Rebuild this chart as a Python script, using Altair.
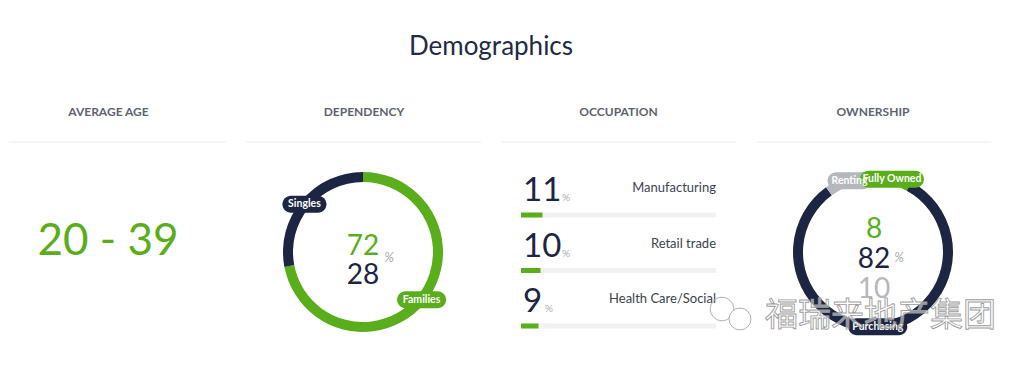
import altair as alt
import pandas as pd

# ---------------- data ----------------
TITLE = "Demographics"
HEADERS = ["AVERAGE AGE", "DEPENDENCY", "OCCUPATION", "OWNERSHIP"]
AGE_RANGE = "20 - 39"
DEP_LABELS = ["Families", "Singles"]
DEP_VALUES = [72, 28]
OCC_LABELS = ["Manufacturing", "Retail trade", "Health Care/Social"]
OCC_VALUES = [11, 10, 9]
OWN_LABELS = ["Fully Owned", "Purchasing", "Renting"]
OWN_VALUES = [8, 82, 10]
WATERMARK = "福瑞来地产集团"

# ---------------- style ----------------
GREEN = "#5aad1b"
NAVY = "#1c2541"
GRAY = "#b5b7bc"
FONT = "Lato"
H = 347
WIDTHS = [217, 235, 235, 235]


def header(i, cx):
    df = pd.DataFrame({"t": [HEADERS[i]]})
    txt = alt.Chart(df).mark_text(
        font=FONT, fontSize=12, fontWeight="bold", color="#5c6370"
    ).encode(text="t:N", x=alt.value(cx), y=alt.value(104))
    rule = alt.Chart(df).mark_rule(color="#ebebeb", strokeWidth=1).encode(
        x=alt.value(0), x2=alt.value(WIDTHS[i]), y=alt.value(134)
    )
    return [rule, txt]


def pill_path(w, h=17, s=30.0):
    a = (w / 2 - h / 2) / s
    r = h / 2 / s
    return (f"M{-a:.4f},{-r:.4f}L{a:.4f},{-r:.4f}"
            f"A{r:.4f},{r:.4f} 0 0 1 {a:.4f},{r:.4f}"
            f"L{-a:.4f},{r:.4f}A{r:.4f},{r:.4f} 0 0 1 {-a:.4f},{-r:.4f}Z")


def donut(labels, values, colors, cx, cy):
    df = pd.DataFrame({"label": labels, "value": values, "idx": list(range(len(labels)))})
    base = alt.Chart(df)
    cscale = alt.Scale(domain=labels, range=colors)
    arc = base.mark_arc(outerRadius=80, innerRadius=70).encode(
        theta=alt.Theta("value:Q", stack=True),
        order=alt.Order("idx:Q"),
        color=alt.Color("label:N", scale=cscale, legend=None),
        x=alt.value(cx),
        y=alt.value(cy),
    )
    lab = base.transform_joinaggregate(total="sum(value)").transform_window(
        cum="sum(value)", sort=[alt.SortField("idx")], frame=[None, 0]
    ).transform_calculate(
        mid="(datum.cum - datum.value / 2) / datum.total * 2 * PI",
        sx="sin(datum.mid)",
        sy="cos(datum.mid)",
    )
    xs = alt.X("sx:Q", scale=alt.Scale(domain=[-1, 1], range=[cx - 76, cx + 76]), axis=None)
    ys = alt.Y("sy:Q", scale=alt.Scale(domain=[-1, 1], range=[cy + 75, cy - 75]), axis=None)
    paths = [pill_path(5.0 * len(l) + 9) for l in labels]
    pills = lab.mark_point(filled=True, size=3600, opacity=1, strokeWidth=0).encode(
        x=xs, y=ys,
        shape=alt.Shape("label:N", scale=alt.Scale(domain=labels, range=paths), legend=None),
        color=alt.Color("label:N", scale=cscale, legend=None),
        order=alt.Order("idx:Q", sort="descending"),
    )
    ptxt = lab.mark_text(font=FONT, fontSize=10.5, fontWeight="bold", color="white").encode(
        x=xs, y=ys, text="label:N", order=alt.Order("idx:Q", sort="descending")
    )
    return base, [arc, pills, ptxt]


# ---------------- panel 1 ----------------
p1 = alt.layer(
    *header(0, 99.5),
    alt.Chart(pd.DataFrame({"t": [AGE_RANGE]})).mark_text(
        font=FONT, fontSize=44, color=GREEN, baseline="middle"
    ).encode(text="t:N", x=alt.value(99), y=alt.value(234)),
).properties(width=WIDTHS[0], height=H)

# ---------------- panel 2 ----------------
dbase, dlayers = donut(DEP_LABELS, DEP_VALUES, [GREEN, NAVY], 117, 244)
one = pd.DataFrame({"t": ["%"]})
p2 = alt.layer(
    *header(1, 118),
    alt.Chart(pd.DataFrame({"t": [TITLE]})).mark_text(
        font=FONT, fontSize=26, color="#1f2a44", baseline="middle"
    ).encode(text="t:N", x=alt.value(245), y=alt.value(39)),
    *dlayers,
    dbase.transform_filter("datum.idx == 0").mark_text(
        font=FONT, fontSize=28, color=GREEN, baseline="middle"
    ).encode(text="value:Q", x=alt.value(117), y=alt.value(239)),
    dbase.transform_filter("datum.idx == 1").mark_text(
        font=FONT, fontSize=28, color=NAVY, baseline="middle"
    ).encode(text="value:Q", x=alt.value(117), y=alt.value(268)),
    alt.Chart(one).mark_text(
        font=FONT, fontSize=13, fontStyle="italic", color="#a9acb2", baseline="middle"
    ).encode(text="t:N", x=alt.value(143), y=alt.value(250)),
).properties(width=WIDTHS[1], height=H)

# ---------------- panel 3 ----------------
occ = pd.DataFrame({"label": OCC_LABELS, "value": OCC_VALUES, "row": [0, 1, 2]})
obase = alt.Chart(occ).transform_calculate(zero="0", full="100")
xsc = alt.Scale(domain=[0, 100], range=[20, 215])
ysc = alt.Scale(domain=[0, 2], range=[207, 318])
OX = alt.X("zero:Q", scale=xsc, axis=None)
OY = alt.Y("row:Q", scale=ysc, axis=None)
p3 = alt.layer(
    *header(2, 117.5),
    obase.mark_rule(color="#f1f1f1", strokeWidth=5).encode(x=OX, x2="full:Q", y=OY),
    obase.mark_rule(color=GREEN, strokeWidth=5).encode(x=OX, x2="value:Q", y=OY),
    obase.mark_text(
        font=FONT, fontSize=33, color=NAVY, align="left", baseline="alphabetic", dy=-14, dx=2
    ).encode(x=OX, y=OY, text="value:Q"),
    obase.transform_calculate(
        px="22 + length(toString(datum.value)) * 17 + 5"
    ).mark_text(
        font=FONT, fontSize=10, color="#a9acb2", align="left", baseline="alphabetic", dy=-14
    ).encode(x=alt.X("px:Q", scale=None), y=OY, text=alt.value("%")),
    obase.mark_text(
        font=FONT, fontSize=13, color="#3b4250", align="right", baseline="middle", dy=-27
    ).encode(x=alt.X("full:Q", scale=xsc, axis=None), y=OY, text="label:N"),
).properties(width=WIDTHS[2], height=H)

# ---------------- panel 4 ----------------
obase4, olayers = donut(OWN_LABELS, OWN_VALUES, [GREEN, NAVY, GRAY], 117, 244)
icon = pd.DataFrame({"k": ["a"]})
p4 = alt.layer(
    *header(3, 117),
    *olayers,
    obase4.transform_filter("datum.idx == 0").mark_text(
        font=FONT, fontSize=28, color=GREEN, baseline="middle"
    ).encode(text="value:Q", x=alt.value(118), y=alt.value(222)),
    obase4.transform_filter("datum.idx == 1").mark_text(
        font=FONT, fontSize=28, color=NAVY, baseline="middle"
    ).encode(text="value:Q", x=alt.value(118), y=alt.value(252)),
    obase4.transform_filter("datum.idx == 2").mark_text(
        font=FONT, fontSize=28, color=GRAY, baseline="middle"
    ).encode(text="value:Q", x=alt.value(118), y=alt.value(282)),
    alt.Chart(one).mark_text(
        font=FONT, fontSize=13, fontStyle="italic", color="#a9acb2", baseline="middle"
    ).encode(text="t:N", x=alt.value(143), y=alt.value(250)),
    alt.Chart(pd.DataFrame({"t": [WATERMARK]})).mark_text(
        font="Noto Sans CJK SC", fontSize=33, align="left", baseline="middle",
        fill="white", fillOpacity=0.55, stroke="#9c9c9c", strokeWidth=0.9
    ).encode(text="t:N", x=alt.value(9), y=alt.value(308)),
    alt.Chart(icon).mark_point(
        shape="circle", size=560, filled=False, stroke="#b0b0b0", strokeWidth=1, opacity=1
    ).encode(x=alt.value(-34), y=alt.value(301)),
    alt.Chart(icon).mark_point(
        shape="circle", size=480, filled=True, fill="white", stroke="#b0b0b0", strokeWidth=1, opacity=1
    ).encode(x=alt.value(-16), y=alt.value(311)),
).properties(width=WIDTHS[3], height=H)

chart = alt.hconcat(p1, p2, p3, p4, spacing=20, bounds="flush").resolve_scale(
    color="independent", shape="independent"
).properties(padding=0).configure_view(stroke=None)

chart.save("out.html", embed_options={"renderer": "svg", "actions": False})
